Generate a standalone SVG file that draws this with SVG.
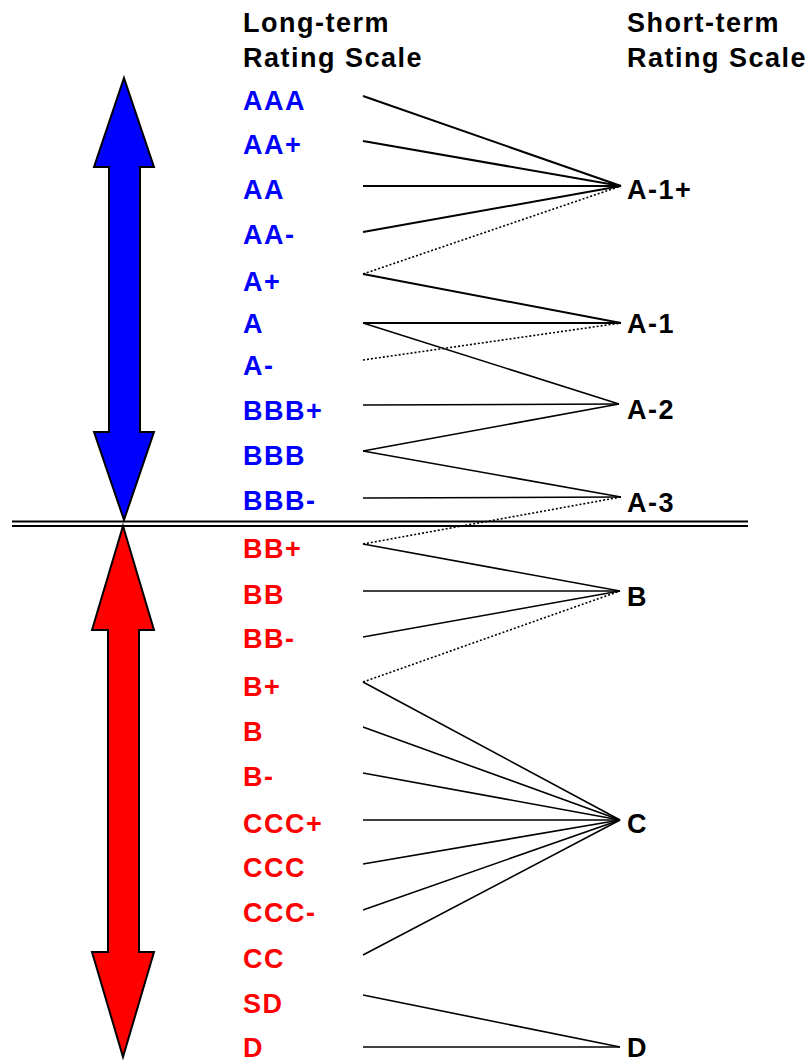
<svg xmlns="http://www.w3.org/2000/svg" width="810" height="1063" viewBox="0 0 810 1063">
  <style>
    text { font-family: "Liberation Sans", Arial, sans-serif; font-weight: bold; font-size: 27px; letter-spacing: 1.5px; }
    .hdr { fill: #000; }
    .inv { fill: #0000ff; }
    .spec { fill: #ff0000; }
    .st { fill: #000; }
    .ln { stroke: #000; stroke-width: 1.6; fill: none; }
    .thick { stroke-width: 2; }
    .dot { stroke-dasharray: 2 2; stroke-width: 1.6; }
    .arrow { stroke: #000; stroke-width: 2; stroke-linejoin: miter; }
  </style>
  <rect width="810" height="1063" fill="#fff"/>

  <!-- column headers -->
  <g id="hdr-long">
    <text class="hdr" x="243" y="32">Long-term</text>
    <text class="hdr" x="243" y="67">Rating Scale</text>
  </g>
  <g id="hdr-short">
    <text class="hdr" x="627" y="32">Short-term</text>
    <text class="hdr" x="627" y="67">Rating Scale</text>
  </g>

  <!-- investment-grade double arrow -->
  <g id="arrow-investment">
    <polygon class="arrow" fill="#0000ff" points="124,78 154,167 140,167 140,432 154,432 124,520 94,432 109,432 109,167 94,167"/>
  </g>
  <!-- speculative-grade double arrow -->
  <g id="arrow-speculative">
    <polygon class="arrow" fill="#ff0000" points="123,526 154,630 139,630 139,952 154,952 123,1057 92,952 108,952 108,630 92,630"/>
  </g>

  <!-- grade divider -->
  <g id="divider" stroke="#000" stroke-width="2">
    <line x1="12" y1="521.5" x2="748" y2="521.5"/>
    <line x1="12" y1="526" x2="748" y2="526"/>
  </g>

  <!-- long-term ratings -->
  <g id="lt-AAA"><text class="inv" x="243" y="110">AAA</text></g>
  <g id="lt-AAplus"><text class="inv" x="243" y="154">AA+</text></g>
  <g id="lt-AA"><text class="inv" x="243" y="199">AA</text></g>
  <g id="lt-AAminus"><text class="inv" x="243" y="244">AA-</text></g>
  <g id="lt-Aplus"><text class="inv" x="243" y="291">A+</text></g>
  <g id="lt-A"><text class="inv" x="243" y="333">A</text></g>
  <g id="lt-Aminus"><text class="inv" x="243" y="375">A-</text></g>
  <g id="lt-BBBplus"><text class="inv" x="243" y="420">BBB+</text></g>
  <g id="lt-BBB"><text class="inv" x="243" y="465">BBB</text></g>
  <g id="lt-BBBminus"><text class="inv" x="243" y="510">BBB-</text></g>
  <g id="lt-BBplus"><text class="spec" x="243" y="558">BB+</text></g>
  <g id="lt-BB"><text class="spec" x="243" y="604">BB</text></g>
  <g id="lt-BBminus"><text class="spec" x="243" y="648">BB-</text></g>
  <g id="lt-Bplus"><text class="spec" x="243" y="696">B+</text></g>
  <g id="lt-B"><text class="spec" x="243" y="741">B</text></g>
  <g id="lt-Bminus"><text class="spec" x="243" y="786">B-</text></g>
  <g id="lt-CCCplus"><text class="spec" x="243" y="833">CCC+</text></g>
  <g id="lt-CCC"><text class="spec" x="243" y="877">CCC</text></g>
  <g id="lt-CCCminus"><text class="spec" x="243" y="922">CCC-</text></g>
  <g id="lt-CC"><text class="spec" x="243" y="968">CC</text></g>
  <g id="lt-SD"><text class="spec" x="243" y="1013">SD</text></g>
  <g id="lt-D"><text class="spec" x="243" y="1057">D</text></g>

  <!-- short-term ratings -->
  <g id="st-A1plus"><text class="st" x="627" y="199">A-1+</text></g>
  <g id="st-A1"><text class="st" x="627" y="333">A-1</text></g>
  <g id="st-A2"><text class="st" x="627" y="419">A-2</text></g>
  <g id="st-A3"><text class="st" x="627" y="512">A-3</text></g>
  <g id="st-B"><text class="st" x="627" y="606">B</text></g>
  <g id="st-C"><text class="st" x="627" y="833">C</text></g>
  <g id="st-D"><text class="st" x="627" y="1057">D</text></g>

  <!-- mapping connectors -->
  <g id="connectors">
    <line class="ln thick" x1="363" y1="96" x2="621" y2="186"/>
    <line class="ln thick" x1="363" y1="141" x2="621" y2="186"/>
    <line class="ln thick" x1="363" y1="186" x2="621" y2="186"/>
    <line class="ln thick" x1="363" y1="232" x2="621" y2="186"/>
    <line class="ln dot" x1="363" y1="274" x2="621" y2="186"/>
    <line class="ln thick" x1="363" y1="274" x2="621" y2="323"/>
    <line class="ln thick" x1="363" y1="323" x2="621" y2="323"/>
    <line class="ln" x1="363" y1="323" x2="619" y2="404"/>
    <line class="ln dot" x1="363" y1="360" x2="621" y2="323"/>
    <line class="ln" x1="363" y1="405" x2="619" y2="404"/>
    <line class="ln" x1="363" y1="451" x2="619" y2="404"/>
    <line class="ln" x1="363" y1="451" x2="621" y2="497"/>
    <line class="ln" x1="363" y1="498" x2="621" y2="497"/>
    <line class="ln dot" x1="363" y1="544" x2="621" y2="497"/>
    <line class="ln" x1="363" y1="544" x2="620" y2="591"/>
    <line class="ln" x1="363" y1="591" x2="620" y2="591"/>
    <line class="ln" x1="363" y1="637" x2="620" y2="591"/>
    <line class="ln dot" x1="363" y1="682" x2="620" y2="591"/>
    <line class="ln" x1="363" y1="682" x2="620" y2="820"/>
    <line class="ln" x1="363" y1="727" x2="620" y2="820"/>
    <line class="ln" x1="363" y1="773" x2="620" y2="820"/>
    <line class="ln" x1="363" y1="820" x2="620" y2="820"/>
    <line class="ln" x1="363" y1="864" x2="620" y2="820"/>
    <line class="ln" x1="363" y1="910" x2="620" y2="820"/>
    <line class="ln" x1="363" y1="955" x2="620" y2="820"/>
    <line class="ln" x1="363" y1="995" x2="620" y2="1047"/>
    <line class="ln" x1="363" y1="1047" x2="620" y2="1047"/>
  </g>
</svg>
